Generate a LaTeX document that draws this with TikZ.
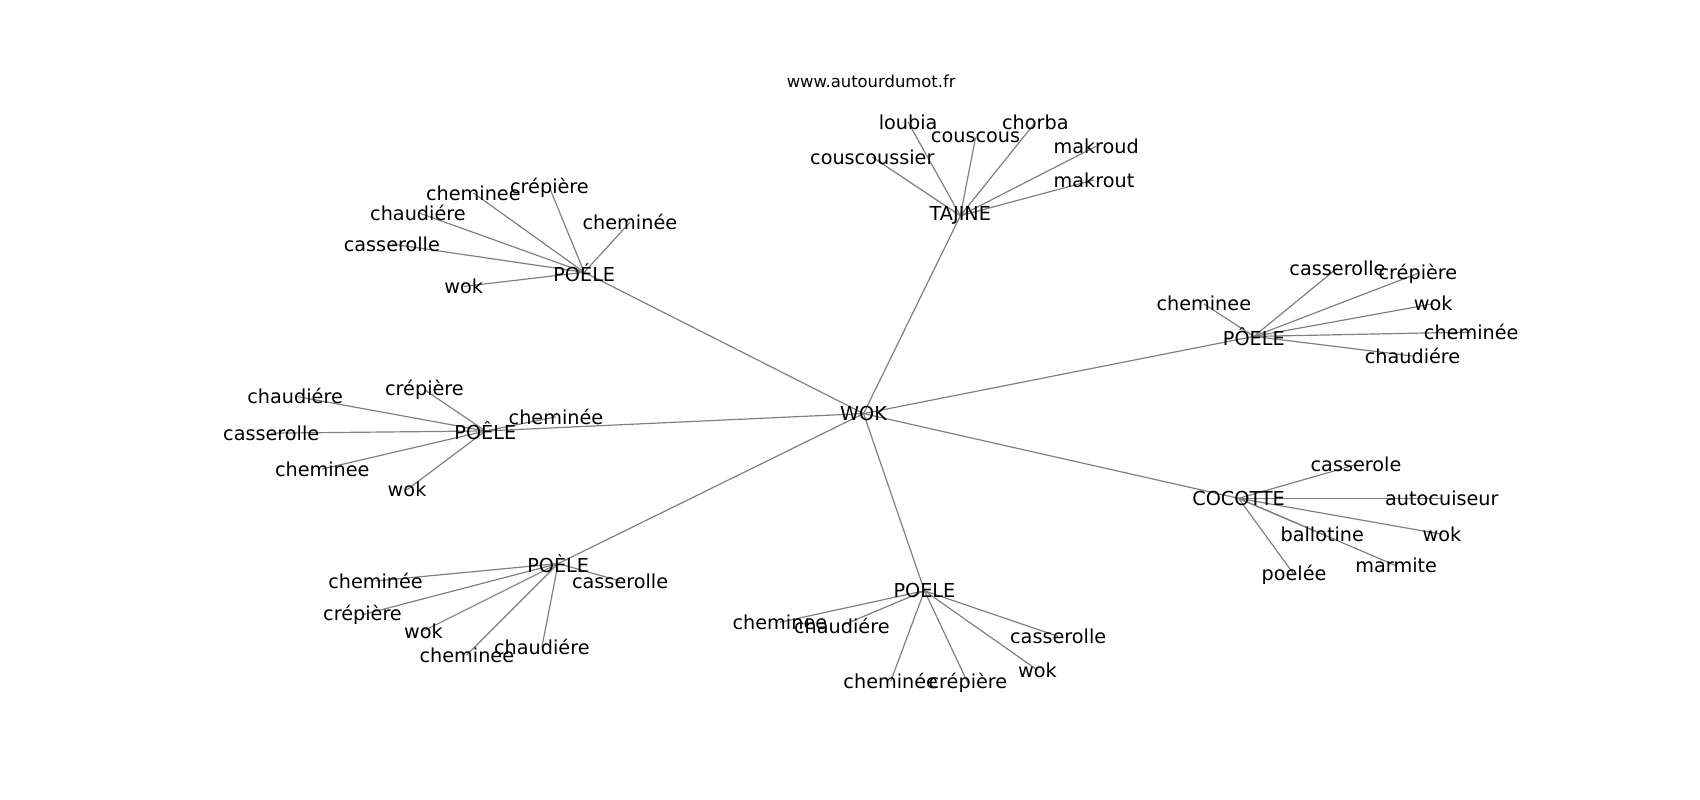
\documentclass[tikz,border=0pt]{standalone}
\usepackage{fontspec}
\setmainfont{DejaVu Sans}
\usetikzlibrary{backgrounds}
\tikzset{
  lbl/.style={inner sep=0pt, font=\fontsize{17.7}{20}\selectfont, text=black},
  site/.style={inner sep=0pt, font=\fontsize{15.1}{17}\selectfont, text=black},
  edge/.style={draw=black!50, line width=1.1pt}
}
\begin{document}
\begin{tikzpicture}[x=1pt,y=-1pt]
\useasboundingbox (0,0) rectangle (1564,736);
\begin{scope}[shift={(-1.5,-1.5)}]
\node[site] (site) at (803,76) {www.autourdumot.fr};
% hubs
\node[lbl] (wok) at (796,382) {WOK};
\node[lbl] (taj) at (885,200) {TAJINE};
\node[lbl] (pA) at (539,252) {POÉLE};
\node[lbl] (pB) at (448,398) {POÊLE};
\node[lbl] (pC) at (515,520) {POÈLE};
\node[lbl] (pD) at (852,545) {POELE};
\node[lbl] (pE) at (1155,311) {PÔELE};
\node[lbl] (coc) at (1141,460) {COCOTTE};
% TAJINE
\node[lbl] (t1) at (804,146) {couscoussier};
\node[lbl] (t2) at (837,114) {loubia};
\node[lbl] (t3) at (899,128) {couscous};
\node[lbl] (t4) at (954,114) {chorba};
\node[lbl] (t5) at (1010,136) {makroud};
\node[lbl] (t6) at (1008,167) {makrout};
% POELE A
\node[lbl] (a1) at (437,179) {cheminee};
\node[lbl] (a2) at (507,174) {crépière};
\node[lbl] (a3) at (386,197) {chaudiére};
\node[lbl] (a4) at (581,206) {cheminée};
\node[lbl] (a5) at (362,226) {casserolle};
\node[lbl] (a6) at (428,265) {wok};
% POELE B
\node[lbl] (b1) at (273,366) {chaudiére};
\node[lbl] (b2) at (392,360) {crépière};
\node[lbl] (b3) at (513,385) {cheminée};
\node[lbl] (b4) at (251,400) {casserolle};
\node[lbl] (b5) at (298,433) {cheminee};
\node[lbl] (b6) at (376,452) {wok};
% POELE C
\node[lbl] (c1) at (347,536) {cheminée};
\node[lbl] (c2) at (572,536) {casserolle};
\node[lbl] (c3) at (335,567) {crépière};
\node[lbl] (c4) at (391,582) {wok};
\node[lbl] (c5) at (431,604) {cheminee};
\node[lbl] (c6) at (500,597) {chaudiére};
% POELE D
\node[lbl] (d1) at (719,574) {cheminee};
\node[lbl] (d2) at (776,577) {chaudiére};
\node[lbl] (d3) at (975,587) {casserolle};
\node[lbl] (d4) at (956,618) {wok};
\node[lbl] (d5) at (821,628) {cheminée};
\node[lbl] (d6) at (892,630) {crépière};
% POELE E
\node[lbl] (e1) at (1109,281) {cheminee};
\node[lbl] (e2) at (1232,248) {casserolle};
\node[lbl] (e3) at (1306,253) {crépière};
\node[lbl] (e4) at (1320,281) {wok};
\node[lbl] (e5) at (1355,307) {cheminée};
\node[lbl] (e6) at (1301,329) {chaudiére};
% COCOTTE
\node[lbl] (k1) at (1249,429) {casserole};
\node[lbl] (k2) at (1328,460) {autocuiseur};
\node[lbl] (k3) at (1218,493) {ballotine};
\node[lbl] (k4) at (1328,493) {wok};
\node[lbl] (k5) at (1286,522) {marmite};
\node[lbl] (k6) at (1192,530) {poelée};
\end{scope}
\begin{scope}[on background layer]
\fill[white] (0,0) rectangle (1564,736);
\foreach \h in {taj,pA,pB,pC,pD,pE,coc}
  \draw[edge] (wok.center) -- (\h.center);
\foreach \c in {t1,t2,t3,t4,t5,t6}
  \draw[edge] (taj.center) -- (\c.center);
\foreach \c in {a1,a2,a3,a4,a5,a6}
  \draw[edge] (pA.center) -- (\c.center);
\foreach \c in {b1,b2,b3,b4,b5,b6}
  \draw[edge] (pB.center) -- (\c.center);
\foreach \c in {c1,c2,c3,c4,c5,c6}
  \draw[edge] (pC.center) -- (\c.center);
\foreach \c in {d1,d2,d3,d4,d5,d6}
  \draw[edge] (pD.center) -- (\c.center);
\foreach \c in {e1,e2,e3,e4,e5,e6}
  \draw[edge] (pE.center) -- (\c.center);
\foreach \c in {k1,k2,k3,k4,k5,k6}
  \draw[edge] (coc.center) -- (\c.center);
\end{scope}
\end{tikzpicture}
\end{document}
